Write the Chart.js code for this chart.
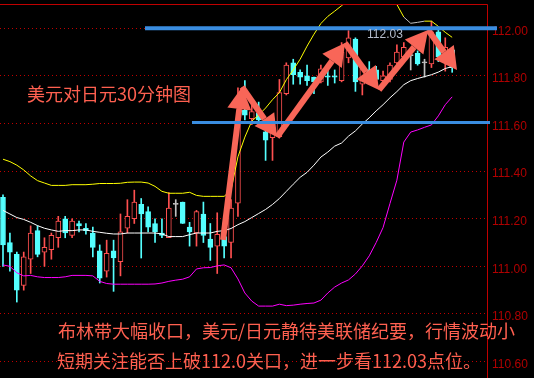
<!DOCTYPE html>
<html>
<head>
<meta charset="utf-8">
<script src="https://cdn.jsdelivr.net/npm/chart.js@4.4.0/dist/chart.umd.min.js"></script>
<style>
  html, body { margin: 0; padding: 0; background: #000; }
  canvas { display: block; }
</style>
</head>
<body>
<canvas id="grafico" width="534" height="378"></canvas>
<script>
// Velas de 30 minutos USD/JPY
const aperturas = [111.29, 111.10, 111.05, 110.92, 111.03, 111.15, 111.06, 111.07, 111.12, 111.20,
  111.13, 111.18, 111.16, 111.14, 111.065, 110.98, 111.065, 111.02, 111.16, 111.20,
  111.26, 111.23, 111.18, 111.14, 111.12, 111.26, 111.27, 111.165, 111.14, 111.22,
  111.115, 111.085, 111.125, 111.10, 111.265, 111.655, 111.62, 111.645, 111.565, 111.54,
  111.545, 111.725, 111.855, 111.815, 111.80, 111.795, 111.775, 111.80, 111.80, 111.78,
  111.875, 111.955, 111.765, 111.825, 111.825, 111.78, 111.785, 111.855, 111.88, 111.885,
  111.895, 111.855, 111.85, 111.985, 111.875, 111.91];
const maximos = [111.30, 111.14, 111.06, 111.06, 111.17, 111.17, 111.12, 111.14, 111.21, 111.21,
  111.20, 111.19, 111.18, 111.165, 111.09, 111.11, 111.11, 111.22, 111.28, 111.32,
  111.285, 111.25, 111.20, 111.20, 111.31, 111.28, 111.27, 111.185, 111.235, 111.27,
  111.18, 111.225, 111.165, 111.28, 111.75, 111.78, 111.695, 111.69, 111.585, 111.63,
  111.785, 111.855, 111.87, 111.825, 111.845, 111.795, 111.845, 111.83, 111.825, 111.94,
  111.99, 111.96, 111.835, 111.86, 111.84, 111.82, 111.855, 111.93, 111.94, 111.905,
  111.905, 111.87, 112.03, 111.995, 111.96, 111.92];
const minimos = [111.00, 110.98, 110.85, 110.90, 110.97, 111.04, 111.00, 111.03, 111.08, 111.12,
  111.12, 111.145, 111.135, 111.04, 110.93, 110.955, 110.895, 110.96, 111.14, 111.18,
  111.035, 111.145, 111.10, 111.12, 111.12, 111.21, 111.18, 111.085, 111.085, 111.10,
  111.025, 110.97, 111.035, 111.035, 111.21, 111.615, 111.595, 111.595, 111.445, 111.445,
  111.54, 111.72, 111.765, 111.765, 111.76, 111.725, 111.77, 111.76, 111.77, 111.775,
  111.855, 111.735, 111.72, 111.785, 111.77, 111.765, 111.775, 111.85, 111.87, 111.825,
  111.845, 111.795, 111.835, 111.86, 111.82, 111.815];
const cierres = [111.09, 111.06, 110.90, 111.04, 111.14, 111.05, 111.08, 111.13, 111.19, 111.14,
  111.19, 111.17, 111.15, 111.08, 110.95, 111.055, 111.035, 111.145, 111.21, 111.27,
  111.22, 111.165, 111.145, 111.13, 111.245, 111.26, 111.18, 111.145, 111.23, 111.13,
  111.08, 111.135, 111.085, 111.245, 111.60, 111.635, 111.65, 111.615, 111.53, 111.565,
  111.73, 111.845, 111.805, 111.795, 111.78, 111.775, 111.83, 111.795, 111.795, 111.90,
  111.96, 111.775, 111.83, 111.81, 111.785, 111.80, 111.845, 111.90, 111.92, 111.885,
  111.85, 111.855, 111.985, 111.88, 111.92, 111.835];

// Bandas de Bollinger
const bandaSuperior = [111.45, 111.44, 111.425, 111.405, 111.38, 111.36, 111.35, 111.34, 111.34, 111.34,
  111.343, 111.343, 111.343, 111.345, 111.348, 111.348, 111.348, 111.349, 111.353, 111.354,
  111.354, 111.35, 111.336, 111.315, 111.307, 111.307, 111.307, 111.311, 111.298, 111.294,
  111.294, 111.294, 111.294, 111.32, 111.46, 111.543, 111.61, 111.636, 111.665, 111.70,
  111.73, 111.784, 111.825, 111.87, 111.925, 111.975, 112.02, 112.05, 112.072, 112.095,
  112.12, 112.14, 112.15, 112.16, 112.16, 112.15, 112.125, 112.10, 112.047, 112.021,
  112.025, 112.03, 112.03, 112.008, 111.983, 111.962];
const bandaMedia = [111.235, 111.22, 111.205, 111.197, 111.185, 111.171, 111.16, 111.153, 111.147, 111.15,
  111.15, 111.153, 111.153, 111.147, 111.143, 111.139, 111.136, 111.136, 111.14, 111.14,
  111.14, 111.14, 111.14, 111.136, 111.125, 111.125, 111.125, 111.133, 111.14, 111.14,
  111.14, 111.147, 111.15, 111.159, 111.175, 111.188, 111.205, 111.222, 111.239, 111.26,
  111.285, 111.315, 111.345, 111.374, 111.395, 111.425, 111.459, 111.48, 111.505, 111.518,
  111.547, 111.569, 111.598, 111.624, 111.653, 111.679, 111.708, 111.734, 111.763, 111.78,
  111.789, 111.797, 111.805, 111.816, 111.831, 111.839];
const bandaInferior = [111.006, 111.0, 110.973, 110.96, 110.962, 110.956, 110.953, 110.953, 110.953, 110.956,
  110.962, 110.962, 110.962, 110.96, 110.937, 110.928, 110.925, 110.925, 110.925, 110.925,
  110.925, 110.925, 110.926, 110.93, 110.937, 110.942, 110.946, 110.956, 110.989, 110.994,
  110.995, 111.002, 111.006, 110.994, 110.947, 110.888, 110.854, 110.833, 110.833, 110.833,
  110.841, 110.835, 110.837, 110.841, 110.844, 110.846, 110.858, 110.888, 110.913, 110.93,
  110.943, 110.968, 111.002, 111.044, 111.10, 111.163, 111.264, 111.362, 111.522, 111.564,
  111.573, 111.584, 111.594, 111.632, 111.679, 111.712];

const marcasEje = [112.0, 111.8, 111.6, 111.4, 111.2, 111.0, 110.8, 110.6];

// Flechas de tendencia: [vela, precio]
const flechas = [[31.84, 111.111], [34.59, 111.753], [39.65, 111.543], [49.49, 111.938],
  [54.41, 111.741], [61.51, 111.993], [65.70, 111.825]];
// Lineas azules: [precio, vela inicial]
const resistencia = [112.0, 20.55];
const soporte = [111.604, 27.35];
const maximoTexto = '112.03';

const titulo = '美元对日元30分钟图';
const comentario1 = '布林带大幅收口，美元/日元静待美联储纪要，行情波动小';
const comentario2 = '短期关注能否上破112.0关口，进一步看112.03点位。';

const ROJO = '#ff5050', CIAN = '#54ffff', GRIS = '#c0c0c0';
const colorVela = i => Math.abs(cierres[i] - aperturas[i]) < 0.001 ? GRIS : (cierres[i] > aperturas[i] ? ROJO : CIAN);
const rellenoVela = i => colorVela(i) === ROJO ? '#000' : colorVela(i);

const cuerpos = aperturas.map((o, i) => ({ x: i, y: [o, cierres[i]] }));
const mechas = aperturas.map((o, i) => ({ x: i, y: [minimos[i], maximos[i]] }));
const puntos = arr => arr.map((v, i) => ({ x: i, y: v }));

function dibujarFlecha(ctx, x0, y0, x1, y1) {
  const ang = Math.atan2(y1 - y0, x1 - x0);
  const largo = 22, ancho = 12;
  const bx = x1 - largo * Math.cos(ang), by = y1 - largo * Math.sin(ang);
  ctx.beginPath();
  ctx.moveTo(x0, y0);
  ctx.lineTo(bx, by);
  ctx.lineWidth = 6;
  ctx.stroke();
  ctx.beginPath();
  ctx.moveTo(x1, y1);
  ctx.lineTo(bx + ancho * Math.sin(ang), by - ancho * Math.cos(ang));
  ctx.lineTo(bx - ancho * Math.sin(ang), by + ancho * Math.cos(ang));
  ctx.closePath();
  ctx.fill();
}

const decoraciones = {
  id: 'decoraciones',
  afterDatasetsDraw(chart) {
    const { ctx, chartArea, scales: { x, y } } = chart;
    ctx.save();
    // marco superior y derecho
    ctx.strokeStyle = '#c00000';
    ctx.lineWidth = 1;
    ctx.beginPath();
    ctx.moveTo(0, chartArea.top + 0.5);
    ctx.lineTo(chartArea.right + 0.5, chartArea.top + 0.5);
    ctx.lineTo(chartArea.right + 0.5, chart.height);
    ctx.stroke();

    // flechas
    ctx.strokeStyle = 'rgb(248,102,88)';
    ctx.fillStyle = 'rgb(248,102,88)';
    ctx.lineCap = 'butt';
    for (let k = 0; k < flechas.length - 1; k++) {
      dibujarFlecha(ctx,
        x.getPixelForValue(flechas[k][0]), y.getPixelForValue(flechas[k][1]),
        x.getPixelForValue(flechas[k + 1][0]), y.getPixelForValue(flechas[k + 1][1]));
    }

    // lineas azules
    ctx.strokeStyle = '#3a8de0';
    ctx.lineWidth = 4;
    ctx.beginPath();
    ctx.moveTo(x.getPixelForValue(resistencia[1]), y.getPixelForValue(resistencia[0]));
    ctx.lineTo(chartArea.right + 10, y.getPixelForValue(resistencia[0]));
    ctx.stroke();
    ctx.lineWidth = 3;
    ctx.beginPath();
    ctx.moveTo(x.getPixelForValue(soporte[1]), y.getPixelForValue(soporte[0]));
    ctx.lineTo(chartArea.right + 3, y.getPixelForValue(soporte[0]));
    ctx.stroke();

    // textos
    ctx.textBaseline = 'middle';
    ctx.textAlign = 'left';
    ctx.fillStyle = '#b4bccc';
    ctx.font = '12px "Liberation Sans"';
    ctx.fillText(maximoTexto, 367, 35);
    ctx.fillStyle = 'rgb(255,96,80)';
    ctx.font = '18px "Noto Sans CJK SC"';
    ctx.fillText(titulo, 27, 94);
    ctx.fillText(comentario1, 58, 331);
    ctx.fillText(comentario2, 57, 361);
    ctx.restore();
  }
};

new Chart(document.getElementById('grafico'), {
  data: {
    datasets: [
      {
        type: 'line', data: puntos(bandaSuperior), borderColor: '#ffff00', borderWidth: 1,
        pointRadius: 0, tension: 0, order: 1,
        segment: { borderColor: c => (c.p0DataIndex >= 58 && c.p0DataIndex <= 60) ? GRIS : undefined }
      },
      { type: 'line', data: puntos(bandaMedia), borderColor: '#ffffff', borderWidth: 1, pointRadius: 0, tension: 0, order: 1 },
      { type: 'line', data: puntos(bandaInferior), borderColor: '#ff00ff', borderWidth: 1, pointRadius: 0, tension: 0, order: 1 },
      {
        type: 'bar', data: cuerpos, order: 2, grouped: false, barThickness: 5, minBarLength: 1,
        backgroundColor: aperturas.map((o, i) => rellenoVela(i)),
        borderColor: aperturas.map((o, i) => colorVela(i)),
        borderWidth: 1, borderSkipped: false
      },
      {
        type: 'bar', data: mechas, order: 3, grouped: false, barThickness: 1,
        backgroundColor: aperturas.map((o, i) => colorVela(i)), borderWidth: 0
      }
    ]
  },
  options: {
    responsive: false,
    animation: false,
    devicePixelRatio: 1,
    layout: { padding: { top: 4, left: 0, right: 0, bottom: 0 } },
    plugins: { legend: { display: false }, tooltip: { enabled: false } },
    scales: {
      x: { type: 'linear', display: false, min: -0.434, max: 70.04, offset: false, grid: { offset: false } },
      y: {
        type: 'linear', position: 'right', min: 110.531, max: 112.102,
        afterBuildTicks: s => { s.ticks = marcasEje.map(v => ({ value: v })); },
        afterFit: s => { s.width = 47; s.paddingTop = 0; s.paddingBottom = 0; },
        grid: { color: '#c00000', lineWidth: 1, drawTicks: false },
        border: { display: false, dash: [1, 3] },
        ticks: {
          color: '#b00000', padding: 5, labelOffset: 3,
          font: { family: 'Liberation Sans', size: 12 },
          callback: v => Number(v).toFixed(2)
        }
      }
    }
  },
  plugins: [decoraciones]
});
</script>
</body>
</html>
